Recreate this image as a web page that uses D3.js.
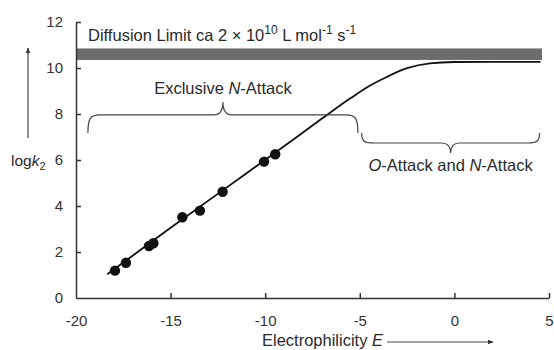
<!DOCTYPE html>
<html>
<head>
<meta charset="utf-8">
<script src="https://cdn.jsdelivr.net/npm/d3@7"></script>
<style>
  body { margin: 0; background: #fff; }
  svg { display: block; font-family: "Liberation Sans", Arial, sans-serif; }
  .axis path, .axis line { stroke: #333; stroke-width: 1.5; }
  .axis text { fill: #333; font-size: 15px; font-family: "Liberation Sans", Arial, sans-serif; }
  .lbl { fill: #2a2a2a; font-size: 16.5px; }
</style>
</head>
<body>
<div id="chart"></div>
<script>
// measured electrophilicity E vs log k2
const pointE = [-17.94, -17.36, -16.14, -15.91, -14.38, -13.45, -12.25, -10.06, -9.47];
const pointLogk = [1.19, 1.53, 2.26, 2.38, 3.51, 3.80, 4.62, 5.93, 6.25];

// fitted curve
const curveE = [-18.35, -15, -12.25, -9.5, -7, -5.5, -4.5, -3.6, -2.5, -1.3, 0, 2, 4.55];
const curveLogk = [1.03, 3.05, 4.68, 6.3, 7.8, 8.68, 9.22, 9.6, 9.99, 10.2, 10.26, 10.27, 10.27];

// diffusion limit band (log k2)
const diffusionBand = [10.35, 10.85];
const diffusionEnd = 4.63;

// brace annotations: E range, line level, tip level, cusp level
const braceExcl = [-19.37, -5.1, 7.96, 7.17, 8.52];
const braceON = [-4.9, 4.5, 6.74, 7.17, 6.3];

const xTicks = [-20, -15, -10, -5, 0, 5];
const yTicks = [0, 2, 4, 6, 8, 10, 12];

const width = 554, height = 350;
const svg = d3.select("#chart").append("svg")
  .attr("width", width)
  .attr("height", height);

const x = d3.scaleLinear().domain([-20, 5]).range([76, 549]);
const y = d3.scaleLinear().domain([0, 12]).range([298, 22]);

// diffusion band
svg.append("rect")
  .attr("x", x(-20))
  .attr("width", x(diffusionEnd) - x(-20))
  .attr("y", y(diffusionBand[1]))
  .attr("height", y(diffusionBand[0]) - y(diffusionBand[1]))
  .style("fill", "#6c6c6c");

// axes
svg.append("g")
  .attr("class", "axis")
  .attr("transform", `translate(0, ${y(0)})`)
  .call(d3.axisBottom(x).tickValues(xTicks).tickFormat(d => String(d))
    .tickSizeInner(-5).tickSizeOuter(0).tickPadding(17))
  .call(g => g.selectAll(".tick").filter(d => d == -20).select("line").remove());

svg.append("g")
  .attr("class", "axis")
  .attr("transform", `translate(${x(-20)}, 0)`)
  .call(d3.axisLeft(y).tickValues(yTicks).tickFormat(d => String(d))
    .tickSizeInner(-5).tickSizeOuter(0).tickPadding(13))
  .call(g => g.selectAll(".tick").filter(d => d == 0).select("line").remove());

// curve
const curvePts = curveE.map((e, i) => [e, curveLogk[i]]);
svg.append("path")
  .datum(curvePts)
  .attr("d", d3.line().x(d => x(d[0])).y(d => y(d[1])).curve(d3.curveMonotoneX))
  .style("fill", "none")
  .style("stroke", "#111")
  .style("stroke-width", 1.8);

// points
svg.selectAll("circle.pt")
  .data(pointE.map((e, i) => [e, pointLogk[i]]))
  .enter()
  .append("circle")
  .attr("class", "pt")
  .attr("cx", d => x(d[0]))
  .attr("cy", d => y(d[1]))
  .attr("r", 5.2)
  .style("fill", "#111");

// braces
function bracePath(b) {
  const x0 = x(b[0]), x1 = x(b[1]), xm = (x0 + x1) / 2;
  const yl = y(b[2]), yt = y(b[3]), yc = y(b[4]);
  const r = 12, rc = 9;
  return `M${x0},${yt}` +
    `C${x0},${yl + (yt - yl) * 0.2} ${x0 + 2},${yl} ${x0 + r},${yl}` +
    `L${xm - rc},${yl}` +
    `C${xm - 2},${yl} ${xm},${yl + (yc - yl) * 0.4} ${xm},${yc}` +
    `C${xm},${yl + (yc - yl) * 0.4} ${xm + 2},${yl} ${xm + rc},${yl}` +
    `L${x1 - r},${yl}` +
    `C${x1 - 2},${yl} ${x1},${yl + (yt - yl) * 0.2} ${x1},${yt}`;
}
[braceExcl, braceON].forEach(b => {
  svg.append("path")
    .attr("d", bracePath(b))
    .style("fill", "none")
    .style("stroke", "#444")
    .style("stroke-width", 1.2);
});

// brace labels
const t1 = svg.append("text").attr("class", "lbl")
  .attr("x", (x(braceExcl[0]) + x(braceExcl[1])) / 2)
  .attr("y", y(braceExcl[4]) - 8)
  .style("text-anchor", "middle");
t1.append("tspan").text("Exclusive ");
t1.append("tspan").style("font-style", "italic").text("N");
t1.append("tspan").text("-Attack");

const t2 = svg.append("text").attr("class", "lbl")
  .attr("x", (x(braceON[0]) + x(braceON[1])) / 2)
  .attr("y", y(braceON[4]) + 18)
  .style("text-anchor", "middle");
t2.append("tspan").style("font-style", "italic").text("O");
t2.append("tspan").text("-Attack and ");
t2.append("tspan").style("font-style", "italic").text("N");
t2.append("tspan").text("-Attack");

// diffusion label
const t3 = svg.append("text").attr("class", "lbl")
  .attr("x", 88)
  .attr("y", 40.5);
t3.append("tspan").text("Diffusion Limit ca 2 \u00d7 10");
t3.append("tspan").attr("dy", -7).style("font-size", "12px").text("10");
t3.append("tspan").attr("dy", 7).text(" L mol");
t3.append("tspan").attr("dy", -7).style("font-size", "12px").text("-1");
t3.append("tspan").attr("dy", 7).text(" s");
t3.append("tspan").attr("dy", -7).style("font-size", "12px").text("-1");

// arrow marker
svg.append("defs").append("marker")
  .attr("id", "arr")
  .attr("viewBox", "0 0 10 10")
  .attr("refX", 9).attr("refY", 5)
  .attr("markerWidth", 6).attr("markerHeight", 6)
  .attr("markerUnits", "userSpaceOnUse")
  .attr("orient", "auto")
  .append("path").attr("d", "M0,1L10,5L0,9Z").style("fill", "#333");

// y label + arrow
const ty = svg.append("text").attr("class", "lbl").attr("x", 11).attr("y", 166)
  .style("font-size", "15.5px");
ty.append("tspan").text("log");
ty.append("tspan").style("font-style", "italic").text("k");
ty.append("tspan").attr("dy", 4).style("font-size", "11px").text("2");

svg.append("line")
  .attr("x1", 28).attr("x2", 28)
  .attr("y1", 138).attr("y2", 48)
  .style("stroke", "#444").style("stroke-width", 1.2)
  .attr("marker-end", "url(#arr)");

// x label + arrow
const tx = svg.append("text").attr("class", "lbl").attr("x", 262).attr("y", 346);
tx.append("tspan").text("Electrophilicity ");
tx.append("tspan").style("font-style", "italic").text("E");

svg.append("line")
  .attr("x1", 387).attr("x2", 493)
  .attr("y1", 342).attr("y2", 342)
  .style("stroke", "#444").style("stroke-width", 1.2)
  .attr("marker-end", "url(#arr)");
</script>
</body>
</html>
